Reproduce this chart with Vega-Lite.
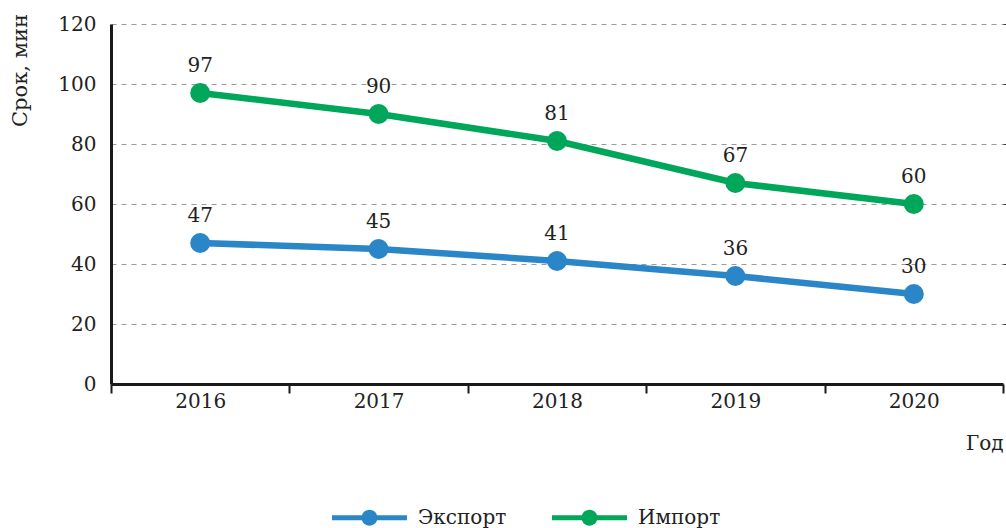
{
  "$schema": "https://vega.github.io/schema/vega-lite/v6.json",
  "autosize": {"type": "none"},
  "padding": {"left": 111, "top": 24, "right": 3, "bottom": 144},
  "width": 892,
  "height": 360,
  "config": {
    "font": "DejaVu Serif",
    "view": {"stroke": null},
    "axis": {"labelFont": "DejaVu Serif", "titleFont": "DejaVu Serif", "labelColor": "#222", "titleColor": "#222"}
  },
  "data": {
    "values": [
      {"year": 2016, "series": "Экспорт", "v": 47},
      {"year": 2017, "series": "Экспорт", "v": 45},
      {"year": 2018, "series": "Экспорт", "v": 41},
      {"year": 2019, "series": "Экспорт", "v": 36},
      {"year": 2020, "series": "Экспорт", "v": 30},
      {"year": 2016, "series": "Импорт", "v": 97},
      {"year": 2017, "series": "Импорт", "v": 90},
      {"year": 2018, "series": "Импорт", "v": 81},
      {"year": 2019, "series": "Импорт", "v": 67},
      {"year": 2020, "series": "Импорт", "v": 60}
    ]
  },
  "resolve": {"axis": {"x": "independent", "y": "independent"}},
  "layer": [
    {
      "mark": {"type": "line", "strokeWidth": 6.5},
      "encoding": {
        "x": {
          "field": "year", "type": "quantitative",
          "scale": {"domain": [2015.5, 2020.5], "nice": false, "zero": false},
          "axis": {
            "orient": "bottom",
            "values": [2016, 2017, 2018, 2019, 2020],
            "format": "d",
            "ticks": false,
            "grid": false,
            "domainColor": "#1a1a1a",
            "domainWidth": 3,
            "labelFontSize": 20,
            "labelPadding": 7,
            "title": "Год",
            "titleFontSize": 20,
            "titleFontWeight": "normal",
            "titleAnchor": "end",
            "titleAlign": "right",
            "titleBaseline": "middle",
            "titleX": 892,
            "titleY": 59
          }
        },
        "y": {
          "field": "v", "type": "quantitative",
          "scale": {"domain": [0, 120], "nice": false},
          "axis": {
            "orient": "left",
            "values": [0, 20, 40, 60, 80, 100, 120],
            "ticks": false,
            "domainColor": "#1a1a1a",
            "domainWidth": 3,
            "grid": true,
            "gridColor": "#9a9a9a",
            "gridDash": [5, 5],
            "gridWidth": 1,
            "labelFontSize": 20,
            "labelPadding": 15,
            "title": "Срок, мин",
            "titleFontSize": 21,
            "titleFontWeight": "normal",
            "titleAngle": -90,
            "titleAlign": "center",
            "titleBaseline": "middle",
            "titleX": -91,
            "titleY": 46
          }
        },
        "color": {
          "field": "series", "type": "nominal",
          "scale": {"domain": ["Экспорт", "Импорт"], "range": ["#2b86c8", "#00a65a"]},
          "legend": {
            "title": null,
            "orient": "none",
            "direction": "horizontal",
            "legendX": 221,
            "legendY": 456,
            "symbolType": "M-1,-0.067H1V0.067H-1Z M0.213,0A0.213,0.213,0,1,1,-0.213,0A0.213,0.213,0,1,1,0.213,0Z",
            "symbolSize": 5625,
            "symbolStrokeWidth": 0,
            "symbolOpacity": 1,
            "labelFont": "DejaVu Serif",
            "labelFontSize": 20,
            "labelColor": "#222",
            "labelOffset": 11,
            "columnPadding": 45,
            "padding": 0,
            "encode": {
              "symbols": {
                "update": {
                  "fill": {"condition": {"test": "datum.value === 'Импорт'", "value": "#6cc05c"}, "value": "#1a6fb5"}
                }
              }
            }
          }
        }
      }
    },
    {
      "mark": {"type": "point", "filled": true, "size": 400, "opacity": 1},
      "encoding": {
        "x": {
          "field": "year", "type": "quantitative",
          "axis": {
            "orient": "bottom",
            "values": [2015.5, 2016.5, 2017.5, 2018.5, 2019.5, 2020.5],
            "labels": false,
            "domain": false,
            "grid": false,
            "ticks": true,
            "tickSize": 9,
            "tickWidth": 2,
            "tickColor": "#1a1a1a",
            "title": null
          }
        },
        "y": {
          "field": "v", "type": "quantitative",
          "axis": {
            "orient": "right",
            "values": [20, 40, 60, 80, 100, 120],
            "labels": false,
            "domain": false,
            "grid": false,
            "ticks": true,
            "tickSize": 4,
            "tickWidth": 1,
            "tickColor": "#333",
            "title": null
          }
        },
        "color": {"field": "series", "type": "nominal", "legend": null}
      }
    },
    {
      "mark": {"type": "text", "dy": -27, "fontSize": 20, "font": "DejaVu Serif", "color": "#222", "baseline": "middle"},
      "encoding": {
        "x": {"field": "year", "type": "quantitative", "axis": null},
        "y": {"field": "v", "type": "quantitative", "axis": null},
        "text": {"field": "v", "type": "quantitative"}
      }
    }
  ]
}
